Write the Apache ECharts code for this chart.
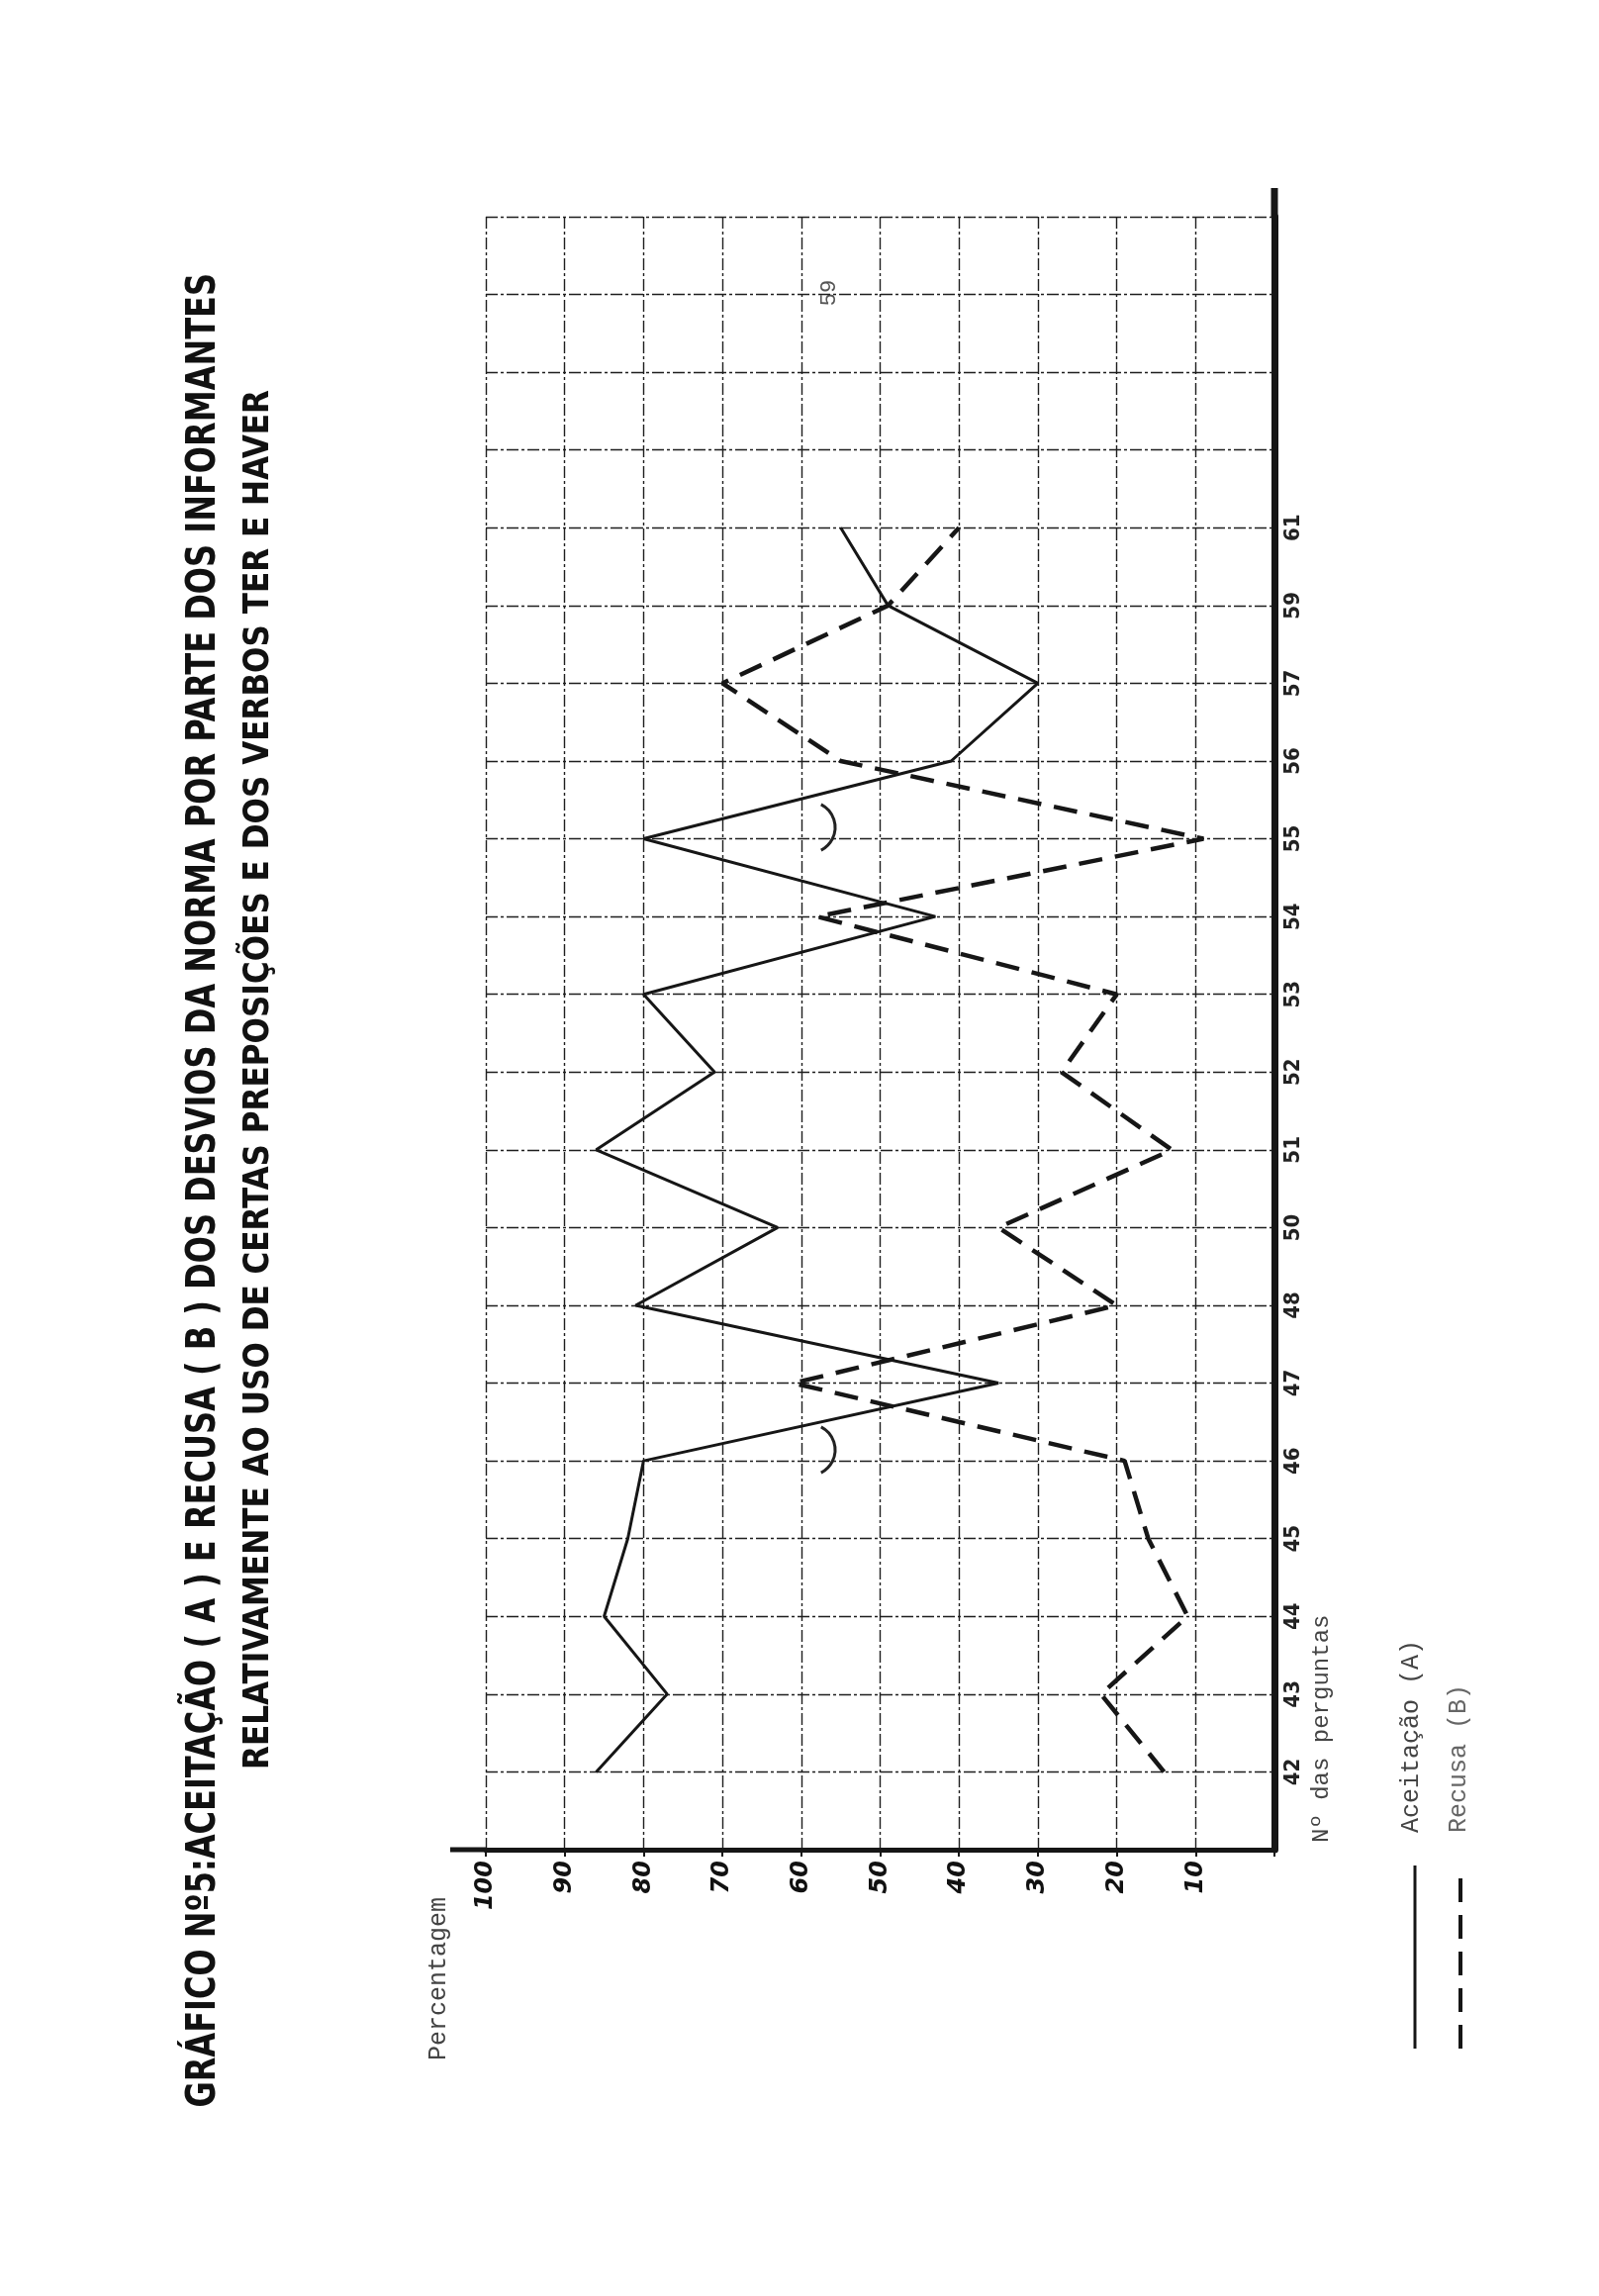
<!DOCTYPE html>
<html><head><meta charset="utf-8">
<script src="https://cdn.jsdelivr.net/npm/echarts@6/dist/echarts.min.js"></script>
<style>html,body{margin:0;padding:0;background:#fff}#c{width:1616px;height:2320px}</style>
</head><body><div id="c"></div>
<script>
// Question numbers (category axis) and percentages
const questions = [42, 43, 44, 45, 46, 47, 48, 50, 51, 52, 53, 54, 55, 56, 57, 59, 61];
const aceitacao = [86, 77, 85, 82, 80, 35, 81, 63, 86, 71, 80, 43, 80, 41, 30, 49, 55];
const recusa    = [14, 22, 11, 16, 19, 61, 20, 35, 13, 27, 20, 58, 9, 55, 70, 49, 40];
const percentTicks = [100, 90, 80, 70, 60, 50, 40, 30, 20, 10];
const titleLine1 = 'GRÁFICO Nº5:ACEITAÇÃO ( A ) E RECUSA ( B ) DOS DESVIOS DA NORMA POR PARTE DOS INFORMANTES';
const titleLine2 = 'RELATIVAMENTE AO USO DE CERTAS PREPOSIÇÕES E DOS VERBOS TER E HAVER';
const legendA = 'Aceitação (A)';
const legendB = 'Recusa (B)';
const axisNameY = 'Nº das perguntas';
const axisNameX = 'Percentagem';
const pageNumber = '59';

const categories = [''].concat(questions.map(String), ['', '', '', '']);
const toPoints = vals => vals.map((v, i) => [v, categories.indexOf(String(questions[i]))]);

const chart = echarts.init(document.getElementById('c'), null, {renderer: 'canvas'});
const INK = '#161616';
const TYPE = "'Liberation Mono', 'DejaVu Sans Mono', monospace";
const NARROW = "'Liberation Sans Narrow', 'DejaVu Sans Condensed', 'Liberation Sans', sans-serif";
const gridStyle = {color: '#1e1e1e', width: 1.4, type: [12, 3, 3, 3]};

chart.setOption({
  backgroundColor: '#ffffff',
  animation: false,
  grid: {left: 491, right: 328, top: 219, bottom: 451, containLabel: false},
  xAxis: {
    type: 'value', min: 0, max: 100, interval: 10, inverse: true, position: 'bottom',
    axisLine: {show: true, lineStyle: {color: INK, width: 5}},
    axisTick: {show: true, length: 7, lineStyle: {color: INK, width: 2}},
    splitLine: {show: true, lineStyle: gridStyle},
    axisLabel: {
      rotate: 90, margin: 11, color: '#111', fontSize: 24, fontWeight: 'bold', fontStyle: 'italic',
      fontFamily: "'DejaVu Sans', sans-serif",
      formatter: v => percentTicks.indexOf(v) >= 0 ? String(v) : ''
    }
  },
  yAxis: {
    type: 'category', data: categories, boundaryGap: false, position: 'right',
    axisLine: {show: true, lineStyle: {color: INK, width: 7}},
    axisTick: {show: false},
    splitLine: {show: true, interval: 0, lineStyle: gridStyle},
    axisLabel: {
      interval: 0, rotate: 90, margin: 8, color: '#222', fontSize: 22, fontWeight: 'bold',
      fontFamily: NARROW
    }
  },
  series: [
    {
      name: legendA, type: 'line', data: toPoints(aceitacao), showSymbol: false, symbol: 'none',
      lineStyle: {color: INK, width: 3}, z: 5
    },
    {
      name: legendB, type: 'line', data: toPoints(recusa), showSymbol: false, symbol: 'none',
      lineStyle: {color: INK, width: 4.5, type: [24, 13]}, z: 5
    }
  ],
  graphic: [
    // axis extensions
    {type: 'line', shape: {x1: 455, y1: 1869, x2: 492, y2: 1869}, style: {stroke: INK, lineWidth: 5}},
    {type: 'line', shape: {x1: 1288, y1: 190, x2: 1288, y2: 220}, style: {stroke: INK, lineWidth: 7}},
    // title
    {type: 'text', x: 207, y: 276, rotation: Math.PI / 2, scaleX: 0.89,
      style: {text: titleLine1, fill: '#111', fontSize: 40, fontWeight: 'bold', fontFamily: NARROW,
        align: 'right', verticalAlign: 'middle'}},
    {type: 'text', x: 262, y: 394, rotation: Math.PI / 2, scaleX: 0.96,
      style: {text: titleLine2, fill: '#111', fontSize: 36, fontWeight: 'bold', fontFamily: NARROW,
        align: 'right', verticalAlign: 'middle'}},
    // axis names
    {type: 'text', x: 443, y: 2082, rotation: Math.PI / 2,
      style: {text: axisNameX, fill: '#444', fontSize: 25, fontFamily: TYPE, align: 'left', verticalAlign: 'middle'}},
    {type: 'text', x: 1336, y: 1862, rotation: Math.PI / 2,
      style: {text: axisNameY, fill: '#444', fontSize: 24, fontFamily: TYPE, align: 'left', verticalAlign: 'middle'}},
    // legend
    {type: 'line', shape: {x1: 1430, y1: 2070, x2: 1430, y2: 1885}, style: {stroke: INK, lineWidth: 3}},
    {type: 'text', x: 1426, y: 1852, rotation: Math.PI / 2,
      style: {text: legendA, fill: '#444', fontSize: 25, fontFamily: TYPE, align: 'left', verticalAlign: 'middle'}},
    {type: 'line', shape: {x1: 1476, y1: 2070, x2: 1476, y2: 1885}, style: {stroke: INK, lineWidth: 4, lineDash: [24, 13]}},
    {type: 'text', x: 1474, y: 1852, rotation: Math.PI / 2,
      style: {text: legendB, fill: '#666', fontSize: 25, fontFamily: TYPE, align: 'left', verticalAlign: 'middle'}},
    // page number and margin marks
    {type: 'text', x: 838, y: 296, rotation: Math.PI / 2,
      style: {text: pageNumber, fill: '#555', fontSize: 22, fontFamily: TYPE, align: 'center', verticalAlign: 'middle'}},
    {type: 'arc', shape: {cx: 818, cy: 836, r: 26, startAngle: -1.1, endAngle: 1.1},
      style: {stroke: '#222', lineWidth: 3, fill: null}},
    {type: 'arc', shape: {cx: 818, cy: 1465, r: 26, startAngle: -1.1, endAngle: 1.1},
      style: {stroke: '#222', lineWidth: 3, fill: null}}
  ]
});
</script></body></html>
